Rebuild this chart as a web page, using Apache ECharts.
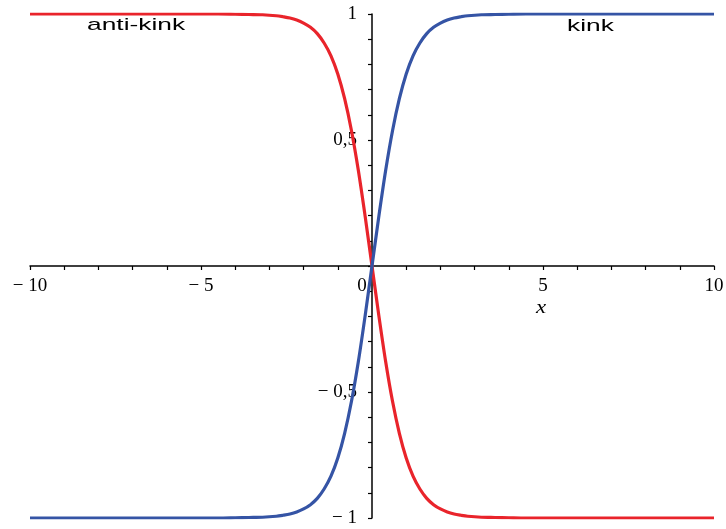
<!DOCTYPE html>
<html>
<head>
<meta charset="utf-8">
<script src="https://cdn.jsdelivr.net/npm/echarts@6/dist/echarts.min.js"></script>
<style>
  html, body { margin: 0; padding: 0; background: #fff; }
  #main { width: 726px; height: 529px; }
</style>
</head>
<body>
<div id="main"></div>
<script>
// x positions and curve values
var xs = [-10, -8, -6, -5, -4.5, -4, -3.6, -3.2, -2.8, -2.6, -2.4, -2.2, -2, -1.8, -1.6, -1.4, -1.2, -1, -0.8, -0.6, -0.4, -0.2,
          0, 0.2, 0.4, 0.6, 0.8, 1, 1.2, 1.4, 1.6, 1.8, 2, 2.2, 2.4, 2.6, 2.8, 3.2, 3.6, 4, 4.5, 5, 6, 8, 10];
var kinkY = [-1, -1, -1, -1, -1, -0.999, -0.998, -0.997, -0.993, -0.989, -0.984, -0.976, -0.964, -0.947, -0.922, -0.885, -0.834, -0.762, -0.664, -0.537, -0.380, -0.197,
             0, 0.197, 0.380, 0.537, 0.664, 0.762, 0.834, 0.885, 0.922, 0.947, 0.964, 0.976, 0.984, 0.989, 0.993, 0.997, 0.998, 0.999, 1, 1, 1, 1, 1];
var antiKinkY = [1, 1, 1, 1, 1, 0.999, 0.998, 0.997, 0.993, 0.989, 0.984, 0.976, 0.964, 0.947, 0.922, 0.885, 0.834, 0.762, 0.664, 0.537, 0.380, 0.197,
                 0, -0.197, -0.380, -0.537, -0.664, -0.762, -0.834, -0.885, -0.922, -0.947, -0.964, -0.976, -0.984, -0.989, -0.993, -0.997, -0.998, -0.999, -1, -1, -1, -1, -1];

var xTicks = {'-10': '\u2212 10', '-5': '\u2212 5', '0': '{z|0}', '5': '5', '10': '10'};
var yTicks = {'1': '1', '0.5': '0,5', '0': '', '-0.5': '\u2212 0,5', '-1': '\u2212 1'};

function pairs(ys) {
    var out = [];
    for (var i = 0; i < xs.length; i++) {
        out.push([xs[i], ys[i]]);
    }
    return out;
}

var serif = 'Liberation Serif';
var chart = echarts.init(document.getElementById('main'));

chart.setOption({
    animation: false,
    grid: {left: 30, right: 12, top: 14, bottom: 11, containLabel: false, outerBoundsMode: 'none'},
    xAxis: {
        type: 'value',
        min: -10,
        max: 10,
        interval: 5,
        position: 'bottom',
        offset: -252,
        splitLine: {show: false},
        axisLine: {onZero: false, lineStyle: {color: '#000', width: 1.5}},
        axisTick: {length: 4, lineStyle: {color: '#000', width: 1.2}},
        minorTick: {show: true, splitNumber: 5, length: 4, lineStyle: {color: '#000', width: 1.2}},
        axisLabel: {
            color: '#000', fontFamily: serif, fontSize: 19, margin: 11,
            formatter: function (v) { return xTicks[String(v)]; },
            rich: {z: {fontFamily: serif, fontSize: 19, color: '#000', padding: [0, 20, 0, 0]}}
        }
    },
    yAxis: {
        type: 'value',
        min: -1,
        max: 1,
        interval: 0.5,
        position: 'left',
        offset: -342,
        splitLine: {show: false},
        axisLine: {onZero: false, lineStyle: {color: '#000', width: 1.5}},
        axisTick: {length: 4, lineStyle: {color: '#000', width: 1.2}},
        minorTick: {show: true, splitNumber: 5, length: 4, lineStyle: {color: '#000', width: 1.2}},
        axisLabel: {
            color: '#000', fontFamily: serif, fontSize: 19, margin: 15,
            formatter: function (v) { return yTicks[String(v)]; }
        }
    },
    graphic: [
        {type: 'text', x: 87, y: 17, scaleX: 1.55, style: {text: 'anti-kink', font: '17px "Liberation Sans"', fill: '#000'}},
        {type: 'text', x: 567, y: 18, scaleX: 1.55, style: {text: 'kink', font: '17px "Liberation Sans"', fill: '#000'}},
        {type: 'text', x: 536, y: 298, scaleX: 1.2, style: {text: 'x', font: 'italic 19px "Liberation Serif"', fill: '#000'}}
    ],
    series: [
        {
            name: 'anti-kink', type: 'line', data: pairs(antiKinkY),
            smooth: 0.3, showSymbol: false,
            lineStyle: {color: '#e9242b', width: 3.2}
        },
        {
            name: 'kink', type: 'line', data: pairs(kinkY),
            smooth: 0.3, showSymbol: false,
            lineStyle: {color: '#3554a5', width: 3.2}
        }
    ]
});
</script>
</body>
</html>
